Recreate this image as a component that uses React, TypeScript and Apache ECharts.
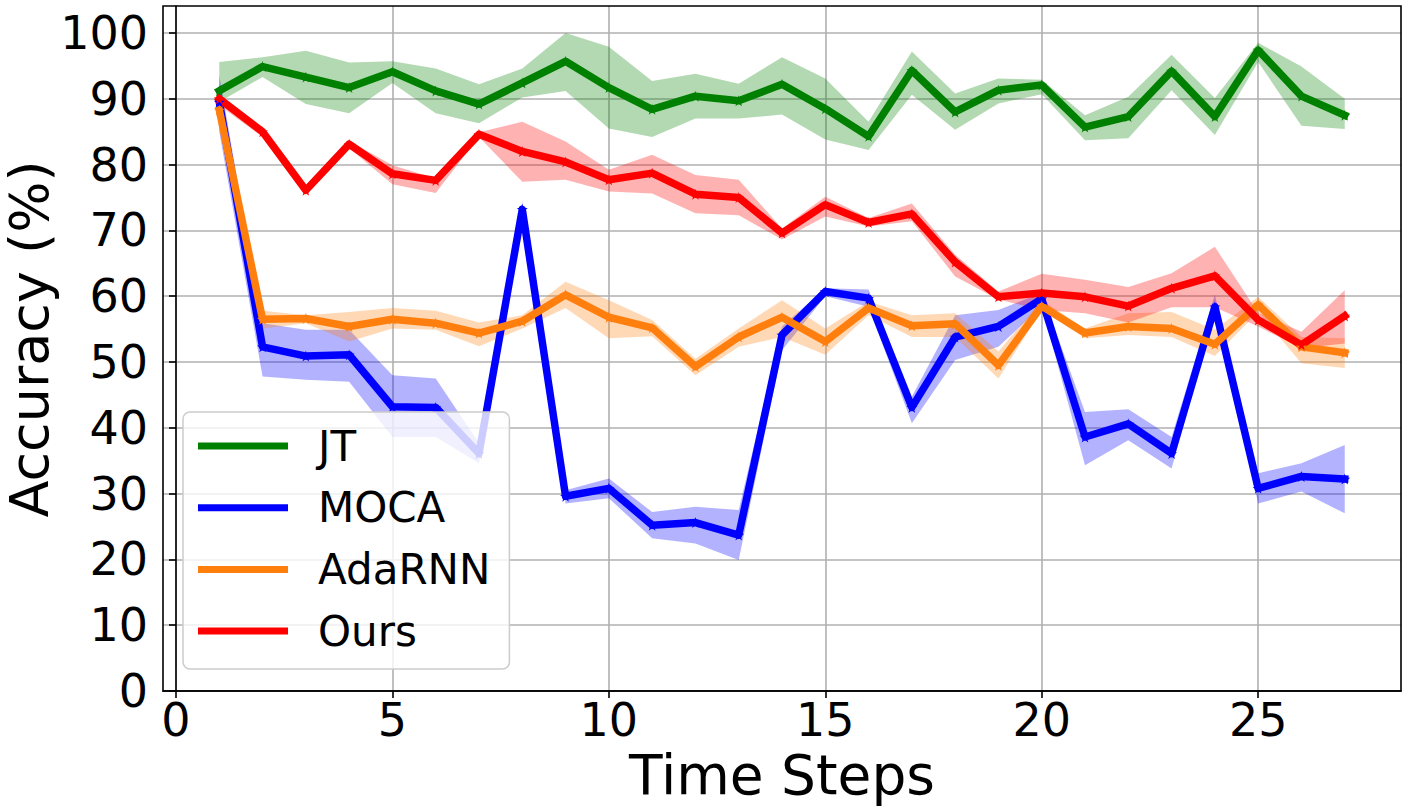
import React, { useEffect, useRef } from "react";
import * as echarts from "echarts";

const steps = [1, 2, 3, 4, 5, 6, 7, 8, 9, 10, 11, 12, 13, 14, 15, 16, 17, 18, 19, 20, 21, 22, 23, 24, 25, 26, 27];

const jtMean = [91.2, 94.9, 93.3, 91.7, 94.1, 91.2, 89.2, 92.4, 95.7, 91.7, 88.4, 90.4, 89.7, 92.2, 88.5, 84.3, 94.3, 88.0, 91.3, 92.1, 85.7, 87.3, 94.2, 87.3, 97.4, 90.4, 87.5];
const jtUpper = [95.6, 96.3, 97.3, 95.5, 95.7, 94.6, 92.2, 94.6, 100.0, 97.9, 92.7, 93.8, 92.3, 96.3, 93.1, 86.5, 97.2, 90.8, 93.1, 92.9, 87.5, 90.3, 96.7, 90.1, 98.5, 94.9, 90.0];
const jtLower = [89.5, 93.3, 89.2, 87.8, 92.4, 87.8, 86.3, 90.2, 91.2, 85.5, 84.2, 87.0, 87.0, 87.6, 83.8, 82.2, 90.6, 85.3, 89.3, 90.7, 83.7, 84.0, 91.3, 84.5, 95.6, 85.9, 85.4];

const mocaMean = [89.5, 52.3, 50.9, 51.1, 43.2, 43.1, 36.1, 73.2, 29.6, 30.8, 25.2, 25.6, 23.7, 54.1, 60.7, 59.7, 43.1, 53.8, 55.4, 59.6, 38.6, 40.6, 36.1, 58.4, 30.8, 32.6, 32.2];
const mocaUpper = [93.5, 55.9, 54.9, 54.9, 48.0, 47.5, 37.7, 74.4, 30.5, 32.3, 27.2, 28.0, 27.5, 55.4, 61.2, 61.0, 44.7, 57.1, 57.9, 60.5, 42.4, 42.8, 38.6, 60.2, 33.1, 34.6, 37.4];
const mocaLower = [85.0, 47.8, 47.3, 47.0, 38.6, 38.6, 34.6, 72.0, 28.5, 29.3, 23.2, 22.4, 19.9, 51.8, 60.0, 58.4, 40.7, 50.3, 52.3, 58.5, 34.3, 38.1, 33.8, 57.5, 28.5, 30.3, 27.0];

const adaMean = [88.3, 56.5, 56.6, 55.4, 56.5, 55.9, 54.4, 56.2, 60.2, 56.8, 55.2, 49.3, 53.8, 56.8, 53.1, 58.2, 55.5, 55.8, 49.5, 58.5, 54.4, 55.4, 55.1, 52.7, 58.7, 52.3, 51.4];
const adaUpper = [89.0, 57.8, 57.1, 57.6, 58.2, 57.8, 56.0, 57.1, 62.2, 59.4, 56.4, 50.5, 55.1, 59.4, 55.1, 59.2, 57.1, 57.4, 51.6, 59.4, 55.1, 57.4, 57.6, 54.9, 59.9, 53.8, 53.6];
const adaLower = [87.5, 55.1, 55.9, 53.1, 55.1, 54.9, 52.4, 55.1, 58.2, 53.6, 53.9, 48.0, 52.3, 53.8, 51.1, 57.1, 53.8, 53.8, 47.5, 57.9, 53.6, 54.1, 53.8, 50.9, 57.6, 49.8, 49.1];

const oursMean = [90.0, 85.0, 76.1, 83.1, 78.6, 77.6, 84.6, 82.0, 80.4, 77.7, 78.7, 75.5, 75.0, 69.6, 73.9, 71.2, 72.5, 65.2, 59.9, 60.5, 59.9, 58.5, 61.2, 63.1, 56.4, 52.6, 57.0];
const oursUpper = [90.6, 85.6, 76.5, 83.6, 79.9, 77.9, 84.9, 86.5, 83.5, 79.2, 81.5, 78.4, 77.7, 70.3, 75.1, 71.9, 74.1, 66.3, 60.7, 63.4, 62.5, 61.4, 63.5, 67.5, 57.5, 54.6, 60.9];
const oursLower = [89.0, 84.2, 75.8, 82.5, 77.0, 75.7, 84.2, 77.4, 77.7, 75.9, 75.6, 72.6, 72.3, 68.6, 72.1, 70.6, 71.4, 63.0, 59.5, 57.9, 57.4, 56.0, 58.3, 58.3, 55.4, 52.1, 52.8];

const xTicks = [0, 5, 10, 15, 20, 25];
const yTicks = [0, 10, 20, 30, 40, 50, 60, 70, 80, 90, 100];

const FONT = "DejaVu Sans";
const STAR = "path://M50,0 L61,35 L98,35 L68,57 L79,91 L50,70 L21,91 L32,57 L2,35 L39,35 Z";

const methods = [
  { name: "JT", color: "#008000", mean: jtMean, lo: jtLower, hi: jtUpper },
  { name: "MOCA", color: "#0000ff", mean: mocaMean, lo: mocaLower, hi: mocaUpper },
  { name: "AdaRNN", color: "#ff7f0e", mean: adaMean, lo: adaLower, hi: adaUpper },
  { name: "Ours", color: "#ff0000", mean: oursMean, lo: oursLower, hi: oursUpper },
];

function buildOption() {
  const bandSeries = {
    type: "custom",
    name: "bands",
    silent: true,
    z: 1,
    data: methods.map((_, k) => [k]),
    encode: { x: -1, y: -1 },
    renderItem: (params: any, api: any) => {
      const k = api.value(0);
      const m = methods[k];
      const upper = steps.map((s, i) => api.coord([s, m.hi[i]]));
      const lower = steps.map((s, i) => api.coord([s, m.lo[i]])).reverse();
      return {
        type: "polygon",
        shape: { points: upper.concat(lower) },
        style: { fill: m.color, opacity: 0.3, stroke: "none" },
      };
    },
  };
  const lineSeries = methods.map((m) => ({
    type: "line",
    name: m.name,
    data: steps.map((s, i) => [s, m.mean[i]]),
    symbol: STAR,
    symbolSize: 11,
    showSymbol: true,
    itemStyle: { color: m.color },
    lineStyle: { color: m.color, width: 7.5, join: "round", cap: "square" },
    z: 2,
  }));

  return {
    animation: false,
    backgroundColor: "#ffffff",
    grid: { left: 163, top: 6, width: 1238, height: 685, containLabel: false, outerBoundsMode: "none" },
    xAxis: {
      type: "value",
      min: -0.3,
      max: 28.3,
      axisLine: { show: true, lineStyle: { color: "#000", width: 1.6 } },
      axisTick: { show: true, customValues: xTicks, length: 7, lineStyle: { color: "#000", width: 1.6 } },
      axisLabel: { customValues: xTicks, fontFamily: FONT, fontSize: 46, color: "#000", margin: 6 },
      splitLine: { show: true, lineStyle: { color: "#b0b0b0", width: 1.6 } },
      name: "Time Steps",
      nameLocation: "middle",
      nameGap: 56,
      nameMoveOverlap: false,
      nameTextStyle: { fontFamily: FONT, fontSize: 55, color: "#000", lineHeight: 55 },
    },
    yAxis: {
      type: "value",
      min: 0,
      max: 104.1,
      axisLine: { show: true, lineStyle: { color: "#000", width: 1.6 } },
      axisTick: { show: true, customValues: yTicks, length: 7, lineStyle: { color: "#000", width: 1.6 } },
      axisLabel: { customValues: yTicks, fontFamily: FONT, fontSize: 46, color: "#000", margin: 15 },
      splitLine: { show: true, lineStyle: { color: "#b0b0b0", width: 1.6 } },
      name: "Accuracy (%)",
      nameLocation: "middle",
      nameRotate: 90,
      nameGap: 110,
      nameMoveOverlap: false,
      nameTextStyle: { fontFamily: FONT, fontSize: 54, color: "#000", lineHeight: 48, padding: [0, 0, 0, 19] },
    },
    legend: {
      data: methods.map((m) => m.name),
      orient: "vertical",
      left: 183,
      top: 412,
      icon: "rect",
      itemWidth: 90,
      itemHeight: 7,
      itemGap: 13.7,
      padding: [10, 19, 14, 15],
      backgroundColor: "rgba(255,255,255,0.8)",
      borderColor: "#cccccc",
      borderWidth: 1.5,
      borderRadius: 7,
      selectedMode: false,
      textStyle: { fontFamily: FONT, fontSize: 42, color: "#000", lineHeight: 48, padding: [0, 0, 0, 25] },
      z: 10,
    },
    graphic: [
      {
        type: "rect",
        shape: { x: 163, y: 6, width: 1238, height: 685 },
        style: { fill: "none", stroke: "#000", lineWidth: 1.6 },
        silent: true,
        z: 20,
      },
    ],
    series: [bandSeries, ...lineSeries],
  };
}

export default function App() {
  const ref = useRef<HTMLDivElement>(null);
  useEffect(() => {
    if (!ref.current) return;
    const chart = echarts.init(ref.current, null, { renderer: "svg" });
    chart.setOption(buildOption() as any);
    return () => chart.dispose();
  }, []);
  return (
    <div
      ref={ref}
      style={{ position: "fixed", left: 0, top: 0, width: 1405, height: 808, background: "#fff" }}
    />
  );
}
